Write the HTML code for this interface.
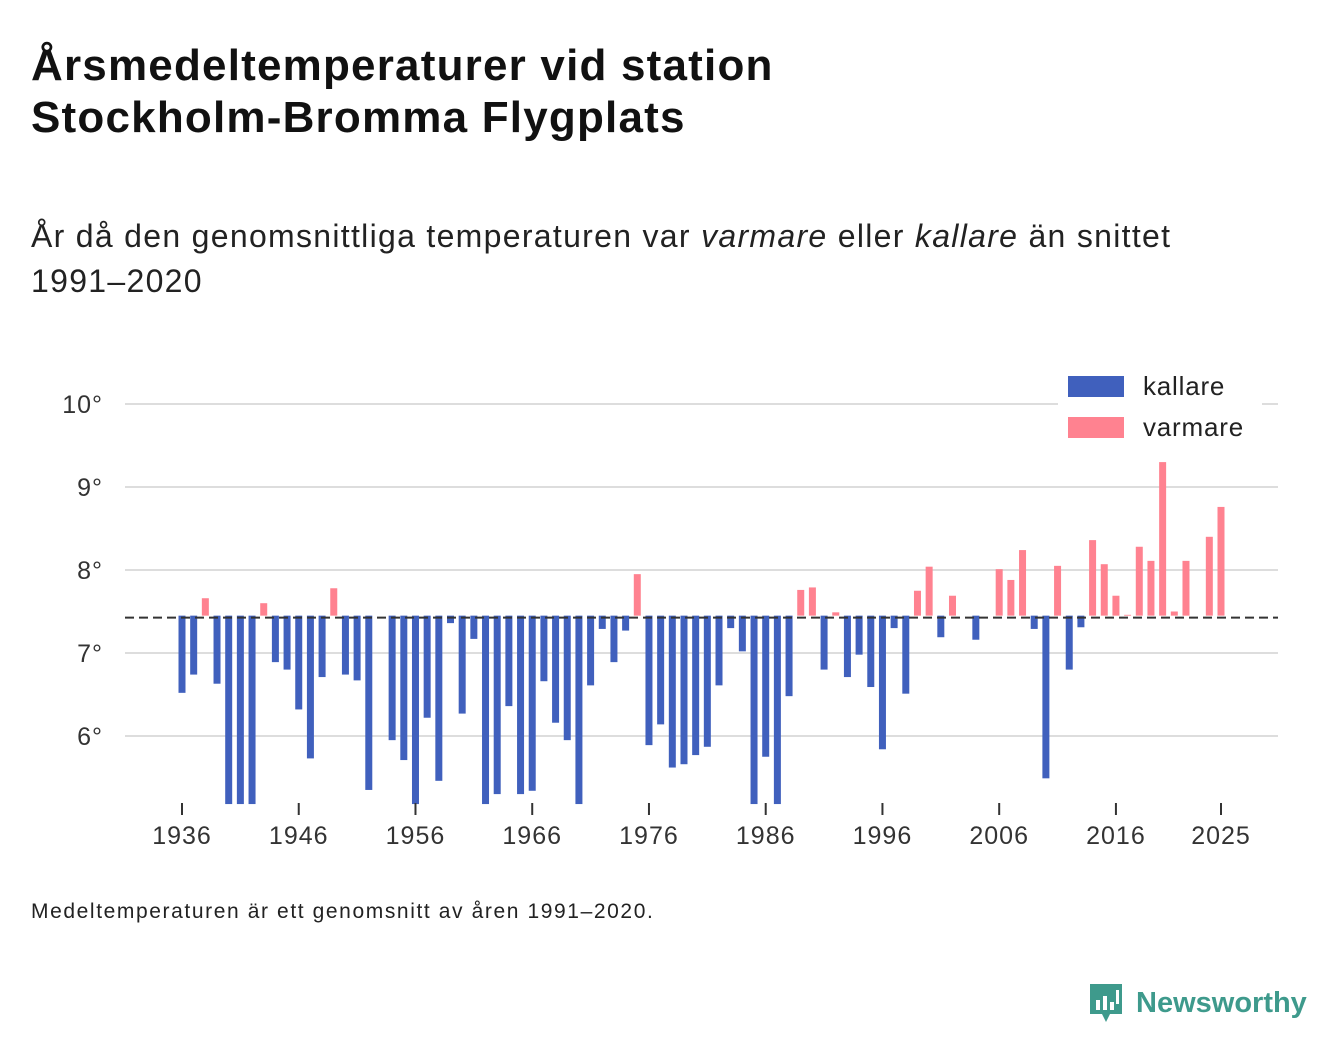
<!DOCTYPE html>
<html><head><meta charset="utf-8">
<style>
body{margin:0;width:1340px;height:1056px;background:#fff;font-family:"Liberation Sans",sans-serif;color:#111;overflow:hidden;position:relative}
.t{position:absolute;left:31px;top:40px;font-size:44px;font-weight:bold;line-height:52px;letter-spacing:1.2px}
.s{position:absolute;left:31px;top:214px;font-size:32px;line-height:45px;color:#222;letter-spacing:1.3px}
.f{position:absolute;left:31px;top:900px;font-size:21px;color:#222;letter-spacing:1.6px}
.logo{position:absolute;left:1088px;top:982px;font-size:29px;font-weight:bold;color:#3e9a8c;display:flex;align-items:center}
</style></head><body>
<div class="t">Årsmedeltemperaturer vid station<br>Stockholm-Bromma Flygplats</div>
<div class="s">År då den genomsnittliga temperaturen var <i>varmare</i> eller <i>kallare</i> än snittet<br>1991–2020</div>
<svg id="chart" width="1340" height="1056" style="position:absolute;left:0;top:0"></svg>
<div class="f">Medeltemperaturen är ett genomsnitt av åren 1991–2020.</div>
<div class="logo">
<svg width="36" height="42" viewBox="0 0 36 42" style="margin-right:12px"><path d="M2 2h32v30H22l-4 8-4-8H2z" fill="#3e9a8c"/><rect x="8" y="18" width="4" height="10" fill="#fff"/><rect x="15" y="14" width="4" height="14" fill="#fff"/><rect x="22" y="20" width="4" height="8" fill="#fff"/><rect x="28" y="8" width="3" height="14" fill="#fff"/></svg>Newsworthy</div>
<script>
const years=[];for(let y=1936;y<=2025;y++)years.push(y);
const temps=[6.52,6.74,7.66,6.63,5.1,5.1,5.1,7.60,6.89,6.80,6.32,5.73,6.71,7.78,6.74,6.67,5.35,7.45,5.95,5.71,5.1,6.22,5.46,7.36,6.27,7.17,5.1,5.30,6.36,5.30,5.34,6.66,6.16,5.95,5.1,6.61,7.29,6.89,7.27,7.95,5.89,6.14,5.62,5.66,5.77,5.87,6.61,7.30,7.02,5.1,5.75,5.1,6.48,7.76,7.79,6.80,7.49,6.71,6.98,6.59,5.84,7.30,6.51,7.75,8.04,7.19,7.69,7.45,7.16,7.45,8.01,7.88,8.24,7.29,5.49,8.05,6.80,7.31,8.36,8.07,7.69,7.46,8.28,8.11,9.30,7.50,8.11,7.45,8.40,8.76];
const baseline=7.45;
const yTicks=[6,7,8,9,10];
const xTicks=[1936,1946,1956,1966,1976,1986,1996,2006,2016,2025];
const NS="http://www.w3.org/2000/svg",svg=document.getElementById('chart');
const yS=v=>653-(v-7)*83, xS=yr=>182+(yr-1936)*(1221-182)/89;
const yMin=5.18;
function mk(tag,attrs,parent){const e=document.createElementNS(NS,tag);for(const k in attrs)e.setAttribute(k,attrs[k]);(parent||svg).appendChild(e);return e;}
yTicks.forEach(t=>{
 const l=mk('line',{x1:125,x2:1278,y1:yS(t),y2:yS(t),stroke:'#ddd','stroke-width':2});
 
 
 const tx=mk('text',{x:103,y:yS(t)+9,'text-anchor':'end','font-size':25,fill:'#333','font-family':'Liberation Sans','letter-spacing':1});
 tx.textContent=t+'°';
 
 
});
years.forEach((yr,i)=>{
 const v=Math.max(temps[i],yMin);
 if(Math.abs(v-baseline)<0.001)return;
 const y1=yS(Math.max(v,baseline)),y2=yS(Math.min(v,baseline));
 const r=mk('rect',{x:xS(yr)-3.5,y:y1,width:7,height:y2-y1,fill:v>baseline?'#ff8290':'#4060bd'});
 
 
});
const bl=mk('line',{x1:125,x2:1278,y1:yS(baseline)+2,y2:yS(baseline)+2,stroke:'#333','stroke-width':2,'stroke-dasharray':'9,5'});


xTicks.forEach(t=>{
 const l=mk('line',{x1:xS(t),x2:xS(t),y1:803,y2:815,stroke:'#333','stroke-width':2});
 
 
 const tx=mk('text',{x:xS(t),y:844,'text-anchor':'middle','font-size':25,fill:'#333','font-family':'Liberation Sans','letter-spacing':1});
 tx.textContent=t;
 
 
});
const lg=mk('g',{});


mk('rect',{x:1058,y:368,width:204,height:78,fill:'#fff'},lg);
[['kallare','#4060bd',376],['varmare','#ff8290',417]].forEach(([n,c,y])=>{
 const r=mk('rect',{x:1068,y:y,width:56,height:21,fill:c},lg);
 
 
 const tx=mk('text',{x:1143,y:y+19,'font-size':26,fill:'#222','font-family':'Liberation Sans','letter-spacing':0.8},lg);
 tx.textContent=n;
 
 
});
</script>
</body></html>
